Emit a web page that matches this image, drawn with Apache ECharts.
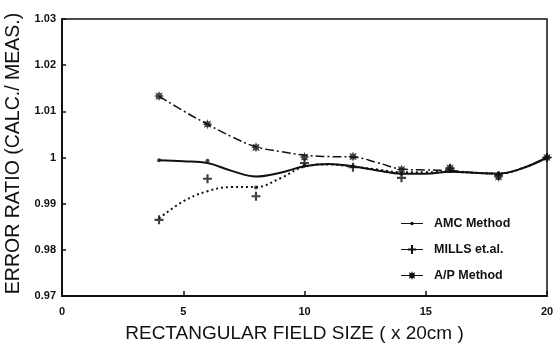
<!DOCTYPE html>
<html>
<head>
<meta charset="utf-8">
<script src="https://cdn.jsdelivr.net/npm/echarts@6/dist/echarts.min.js"></script>
<style>html,body{margin:0;padding:0;background:#fff}#c{width:554px;height:349px}</style>
</head>
<body>
<div id="c"></div>
<script>
// ---- data ----
const seriesNames = ['AMC Method', 'MILLS et.al.', 'A/P Method'];
const xTicks = [0, 5, 10, 15, 20];
const yTicks = [0.97, 0.98, 0.99, 1, 1.01, 1.02, 1.03];

// measured points (field size 4..20)
const pointX = [4, 6, 8, 10, 12, 14, 16, 18, 20];
const amcPoints   = [0.9994, 0.9993, 0.9935, 0.9983, 0.9981, 0.9965, 0.9970, 0.9965, 1.0000];
const millsPoints = [0.9865, 0.9954, 0.9916, 0.9988, 0.9979, 0.9956, 0.9976, 0.9961, 1.0000];
const apPoints    = [1.0133, 1.0072, 1.0022, 1.0001, 1.0002, 0.9974, 0.9977, 0.9958, 1.0000];

// fitted curves
const fitX     = [4, 5, 6, 7, 8, 9, 10, 11, 12, 13, 14, 15, 16, 17, 18, 19, 20];
const amcFit   = [0.9994, 0.9992, 0.9988, 0.9971, 0.9959, 0.9967, 0.9981, 0.9986, 0.9981, 0.9972, 0.9965, 0.9965, 0.9969, 0.9967, 0.9965, 0.9977, 1.0000];
const millsFit = [0.9868, 0.9905, 0.9927, 0.9936, 0.9936, 0.9955, 0.9980, 0.9985, 0.9980, 0.9974, 0.9968, 0.9968, 0.9969, 0.9967, 0.9965, 0.9977, 1.0000];
const apFit    = [1.0133, 1.0101, 1.0072, 1.0045, 1.0023, 1.0013, 1.0005, 1.0002, 1.0001, 0.9989, 0.9975, 0.9973, 0.9972, 0.9967, 0.9965, 0.9977, 1.0000];

// ---- styling ----
const INK = '#111';
const FONT = '"Liberation Sans", Arial, Helvetica, sans-serif';
const plusPath = 'path://M3.8,0H6.2V3.8H10V6.2H6.2V10H3.8V6.2H0V3.8H3.8Z';
const starPath = 'path://M10,5L7.59,6.00L8.54,8.54L6.00,7.59L5,10L4.00,7.59L1.46,8.54L2.41,6.00L0,5L2.41,4.00L1.46,1.46L4.00,2.41L5,0L6.00,2.41L8.54,1.46L7.59,4.00Z';
const iconAmc = 'path://M0,4.4H22V5.6H0Z M12.8,5L12.27,6.27L11,6.8L9.73,6.27L9.2,5L9.73,3.73L11,3.2L12.27,3.73Z';
const iconMills = 'path://M0,4.4H22V5.6H0Z M7,4H15V6H7Z M10,0.5H12V9.5H10Z';
const iconAp = 'path://M0,4.4H22V5.6H0Z M15.5,5L13.33,5.90L14.18,8.18L11.90,7.33L11,9.5L10.10,7.33L7.82,8.18L8.67,5.90L6.5,5L8.67,4.10L7.82,1.82L10.10,2.67L11,0.5L11.90,2.67L14.18,1.82L13.33,4.10Z';

function zip(xs, ys) { return xs.map((x, i) => [x, ys[i]]); }

const chart = echarts.init(document.getElementById('c'), null, {renderer: 'canvas'});
chart.setOption({
  animation: false,
  backgroundColor: '#fff',
  textStyle: {fontFamily: FONT},
  grid: {left: 62, right: 7, top: 19, bottom: 53, show: true, borderColor: INK, borderWidth: 1.5,
    containLabel: false, outerBoundsMode: 'none'},
  legend: {
    orient: 'vertical', left: 401, top: 217, padding: 0,
    itemWidth: 22, itemHeight: 10, itemGap: 13,
    textStyle: {fontSize: 12.5, fontWeight: 'bold', color: INK, fontFamily: FONT, padding: [0, 0, 0, 6]},
    data: [
      {name: seriesNames[0], icon: iconAmc},
      {name: seriesNames[1], icon: iconMills},
      {name: seriesNames[2], icon: iconAp}
    ]
  },
  xAxis: {
    type: 'value', min: 0, max: 20, interval: 5,
    name: 'RECTANGULAR FIELD SIZE ( x 20cm )', nameLocation: 'middle', nameGap: 28,
    nameTextStyle: {fontSize: 19, color: INK, fontFamily: FONT, padding: [0, 20, 0, 0]},
    axisLine: {show: true, lineStyle: {color: INK, width: 2}},
    axisTick: {show: true, inside: true, length: 5, lineStyle: {color: INK, width: 1.5}},
    axisLabel: {fontSize: 11, fontWeight: 'bold', color: INK, margin: 10,
      formatter: v => xTicks.includes(v) ? String(v) : ''},
    splitLine: {show: false}
  },
  yAxis: {
    type: 'value', min: 0.97, max: 1.03, interval: 0.01,
    name: 'ERROR RATIO (CALC./ MEAS.)', nameLocation: 'middle', nameGap: 38,
    nameTextStyle: {fontSize: 19.5, color: INK, fontFamily: FONT, padding: [0, 0, 0, 8]},
    axisLine: {show: true, lineStyle: {color: INK, width: 2}},
    axisTick: {show: true, inside: true, length: 4, lineStyle: {color: INK, width: 1.5}},
    axisLabel: {fontSize: 11, fontWeight: 'bold', color: INK, margin: 6,
      formatter: v => {
        const r = Math.round(v * 100) / 100;
        const t = yTicks.find(k => Math.abs(k - r) < 1e-9);
        return t === undefined ? '' : String(t);
      }},
    splitLine: {show: false}
  },
  series: [
    {name: seriesNames[0], type: 'line', data: zip(fitX, amcFit), smooth: 0.4, showSymbol: false, symbol: 'circle',
      lineStyle: {color: INK, width: 2, type: 'solid'}, itemStyle: {color: INK}, z: 3},
    {name: seriesNames[1], type: 'line', data: zip(fitX, millsFit), smooth: 0.4, showSymbol: false, symbol: plusPath,
      lineStyle: {color: INK, width: 2, type: [2, 3]}, itemStyle: {color: INK}, z: 2},
    {name: seriesNames[2], type: 'line', data: zip(fitX, apFit), smooth: 0.4, showSymbol: false, symbol: starPath,
      lineStyle: {color: INK, width: 1.5, type: [9, 3, 2, 3]}, itemStyle: {color: INK}, z: 2},
    {name: seriesNames[0], type: 'scatter', data: zip(pointX, amcPoints), symbol: 'circle', symbolSize: 4,
      itemStyle: {color: INK}, z: 4},
    {name: seriesNames[1], type: 'scatter', data: zip(pointX, millsPoints), symbol: plusPath, symbolSize: 9,
      itemStyle: {color: INK}, z: 4},
    {name: seriesNames[2], type: 'scatter', data: zip(pointX, apPoints), symbol: starPath, symbolSize: 10,
      itemStyle: {color: INK}, z: 4}
  ]
});
</script>
</body>
</html>
